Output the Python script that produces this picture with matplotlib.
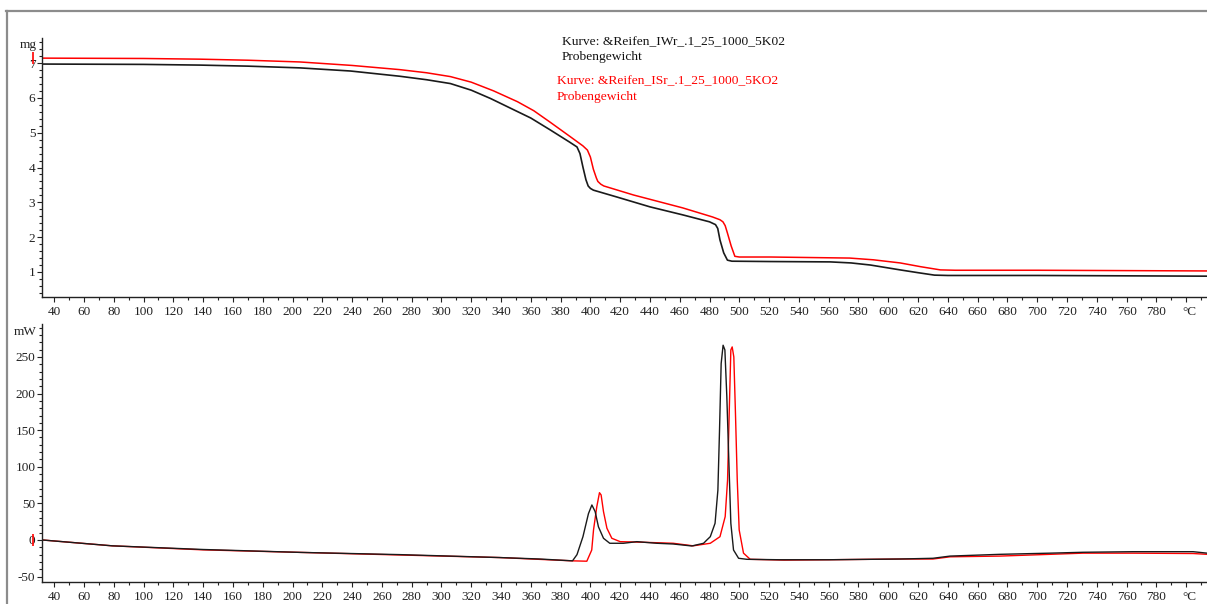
import matplotlib
matplotlib.use("Agg")
import matplotlib.pyplot as plt
from matplotlib.ticker import MultipleLocator, FixedLocator
from matplotlib.lines import Line2D
import matplotlib.transforms as mtransforms

plt.rcParams['font.family'] = ['Liberation Serif', 'DejaVu Serif']
plt.rcParams['axes.unicode_minus'] = False

# ---------------- data ----------------
# TG curves: sample weight in mg vs temperature in °C
tg_temp_black = [32, 100, 138, 170, 205, 239, 272, 290, 306, 320, 333, 346, 360, 373, 386,
                 391, 393, 395, 397, 398.5, 400, 402, 418, 440, 462, 480, 484, 485.5, 487,
                 489.5, 492, 495, 521, 561, 575, 588, 608, 620, 631, 640, 700, 814]
tg_mass_black = [6.97, 6.96, 6.94, 6.91, 6.86, 6.77, 6.62, 6.52, 6.41, 6.22, 5.98, 5.71,
                 5.42, 5.08, 4.73, 4.59, 4.40, 4.01, 3.65, 3.47, 3.40, 3.35, 3.15, 2.87,
                 2.64, 2.44, 2.36, 2.25, 1.92, 1.55, 1.34, 1.31, 1.30, 1.29, 1.26, 1.20,
                 1.06, 0.98, 0.91, 0.90, 0.90, 0.88]

tg_temp_red = [32, 100, 138, 170, 205, 240, 272, 290, 306, 320, 335, 351, 362, 373, 386,
               395, 398, 400, 402, 404, 405, 407, 409, 429, 462, 482, 487, 489, 490.5,
               492, 494.5, 497, 500, 521, 574, 590, 608, 622, 635, 645, 700, 814]
tg_mass_red = [7.14, 7.13, 7.11, 7.08, 7.03, 6.93, 6.81, 6.72, 6.61, 6.45, 6.20, 5.89,
               5.63, 5.30, 4.90, 4.62, 4.50, 4.30, 3.95, 3.70, 3.60, 3.52, 3.47, 3.21,
               2.84, 2.58, 2.50, 2.44, 2.33, 2.12, 1.75, 1.45, 1.43, 1.43, 1.40, 1.35,
               1.26, 1.15, 1.06, 1.05, 1.05, 1.03]

# DSC curves: heat flow in mW vs temperature in °C
dsc_temp_black = [32, 79, 140, 206, 272, 339, 366, 388, 391, 395, 398.7, 401, 403.2, 405.4,
                  408.8, 413, 422.2, 431.2, 444.6, 455.6, 468.1, 476, 478.2, 480.5, 483.7,
                  485.6, 486.7, 487.8, 489.1, 490.3, 491.6, 493, 494.3, 496.1, 499.5, 505,
                  527, 560, 608, 630, 641.5, 675, 708.7, 730.8, 764.4, 804.7, 814]
dsc_heat_black = [0, -8, -13, -17, -20, -24, -26, -28.5, -20, 4.5, 36, 47.8, 38.7, 18,
                  2.3, -4.5, -4.5, -2.3, -4.5, -5.5, -8.2, -4.5, 0, 4.5, 22.8,
                  68, 150, 241, 266, 259.6, 196, 105, 22.8, -13.7, -25, -26.4,
                  -27, -27, -26, -25, -22, -19.6, -18, -16.8, -16, -16, -18]

dsc_temp_red = [32, 79, 140, 206, 272, 339, 366, 388, 397.6, 400.9, 402.1, 404.3, 406.1,
                407.2, 408.8, 411.1, 414.4, 420, 433.5, 455.6, 469, 480.5, 487, 490.5,
                492.1, 493.2, 494.3, 495.2, 496.3, 497.4, 498.6, 499.9, 502.8, 507.3,
                530, 560, 608, 630, 641.5, 675, 708.7, 730.8, 764.4, 804.7, 814]
dsc_heat_red = [0, -8, -13.5, -17, -20.5, -24, -26.5, -28.5, -29, -13.7, 13.7, 45.5, 64.6,
                61.5, 38.7, 16, 2.3, -2.3, -3, -4.5, -8, -4.5, 4.5, 31.9,
                82, 173, 259.6, 263.7, 250, 173, 82, 13.7, -18, -26.4,
                -27.5, -27, -26, -26, -23, -22, -19.6, -18, -18, -18.5, -19.6]

x_ticks = list(range(40, 801, 20))
x_tick_labels = [str(t) for t in range(40, 781, 20)] + ["°C"]
legend_black = ["Kurve: &Reifen_IWr_.1_25_1000_5K02", "Probengewicht"]
legend_red = ["Kurve: &Reifen_ISr_.1_25_1000_5KO2", "Probengewicht"]

# ---------------- figure ----------------
W, H = 1207, 604
fig = plt.figure(figsize=(W / 100, H / 100), dpi=100)

def fx(px):
    return px / W

def fy(py):
    return 1 - py / H

ax1 = fig.add_axes([fx(42.3), fy(297), 1 - fx(42.3), fy(38) - fy(297)])
ax2 = fig.add_axes([fx(42.3), fy(582), 1 - fx(42.3), fy(324) - fy(582)])

red = '#ff0000'
blk = '#1a1a1a'

ax1.plot(tg_temp_red, tg_mass_red, color=red, lw=1.1)
ax1.plot(tg_temp_black, tg_mass_black, color=blk, lw=1.2)
ax2.plot(dsc_temp_red, dsc_heat_red, color=red, lw=1.0)
ax2.plot(dsc_temp_black, dsc_heat_black, color=blk, lw=1.0)

ax1.set_ylim(0.282, 7.718)
ax2.set_ylim(-57.4, 295)

for ax in (ax1, ax2):
    ax.set_xlim(32, 814)
    for s in ('top', 'right'):
        ax.spines[s].set_visible(False)
    for s in ('left', 'bottom'):
        ax.spines[s].set_linewidth(1.0)
        ax.spines[s].set_color('#222222')
    ax.xaxis.set_major_locator(FixedLocator(x_ticks))
    ax.set_xticklabels(x_tick_labels)
    ax.xaxis.set_minor_locator(MultipleLocator(10))
    ax.tick_params(axis='x', which='major', direction='out', length=3.5, width=0.8,
                   pad=3, labelsize=9.5, colors='#222222')
    ax.tick_params(axis='x', which='minor', direction='out', length=2.5, width=0.8,
                   colors='#222222')
    ax.tick_params(axis='y', which='major', direction='out', length=3.5, width=0.8,
                   pad=1.5, labelsize=9.5, colors='#222222')
    ax.tick_params(axis='y', which='minor', direction='out', length=2, width=0.8,
                   colors='#222222')
    lbls = ax.get_xticklabels()
    lbls[-1].set_ha('left')
    lbls[-1].set_transform(lbls[-1].get_transform() +
                           mtransforms.ScaledTranslation(-3 / 72, 0, fig.dpi_scale_trans))

ax1.yaxis.set_major_locator(MultipleLocator(1))
ax1.yaxis.set_minor_locator(MultipleLocator(0.2))
ax2.yaxis.set_major_locator(MultipleLocator(50))
ax2.yaxis.set_minor_locator(MultipleLocator(10))

# unit labels on the y axes
ax1.text(-0.0045, 7.52, "mg", transform=ax1.get_yaxis_transform(), ha='right',
         va='center', fontsize=9.5, color='#222222')
ax2.text(-0.0045, 284, "mW", transform=ax2.get_yaxis_transform(), ha='right',
         va='center', fontsize=9.5, color='#222222')

# red start markers at the curve beginnings
off = mtransforms.ScaledTranslation(-7 / 72, 0, fig.dpi_scale_trans)
ax1.plot([tg_temp_red[0]], [tg_mass_red[0]], marker='|', ms=8, color=red, mew=1.2,
         clip_on=False, transform=ax1.transData + off)
ax2.plot([dsc_temp_red[0]], [dsc_heat_red[0]], marker='|', ms=8, color=red, mew=1.2,
         clip_on=False, transform=ax2.transData + off)

# curve descriptions
fs_leg = 9.7
fig.text(fx(562), fy(42), legend_black[0], fontsize=fs_leg, color='#111111', va='center')
fig.text(fx(562), fy(57), legend_black[1], fontsize=fs_leg, color='#111111', va='center')
fig.text(fx(557), fy(81), legend_red[0], fontsize=fs_leg, color=red, va='center')
fig.text(fx(557), fy(97), legend_red[1], fontsize=fs_leg, color=red, va='center')

# outer grey frame
fig.add_artist(Line2D([fx(7), fx(7)], [fy(10.5), 0], color='#8c8c8c', lw=1.6))
fig.add_artist(Line2D([fx(6.2), 1], [fy(10.5), fy(10.5)], color='#8c8c8c', lw=1.6))

fig.savefig("out.png", dpi=100)
